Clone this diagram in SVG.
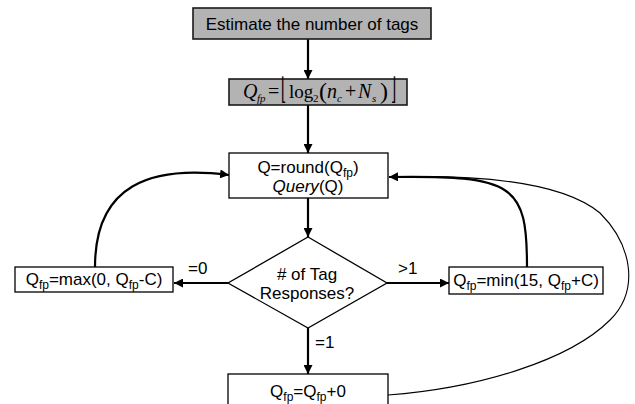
<svg xmlns="http://www.w3.org/2000/svg" width="635" height="404" viewBox="0 0 635 404">
  <style>
    .box { fill: #ffffff; stroke: #000000; stroke-width: 1.3; }
    .grey { fill: #b3b3b3; stroke: #1a1a1a; stroke-width: 1.6; }
    .lbl { font-family: "Liberation Sans", Arial, sans-serif; font-size: 17px; fill: #000000; }
    .mid { text-anchor: middle; }
    .math { font-family: "Liberation Serif", "Times New Roman", "DejaVu Serif", serif; font-size: 20px; fill: #000000; }
    .it { font-style: italic; }
    .sub { font-size: 11px; }
    .big { font-size: 24px; }
    .floor { font-family: "DejaVu Serif", serif; font-size: 30px; fill: #000000; }
    .flow { fill: none; stroke: #000000; stroke-width: 2.2; }
    .thin { fill: none; stroke: #000000; stroke-width: 1.1; }
  </style>
  <defs>
    <marker id="arrow" viewBox="0 0 10 10" refX="10" refY="5" markerWidth="9" markerHeight="9" markerUnits="userSpaceOnUse" orient="auto">
      <path d="M0,0 L10,5 L0,10 z" fill="#000000"/>
    </marker>
  </defs>

  <!-- connectors -->
  <g id="connectors">
    <line class="flow" x1="308" y1="39" x2="308" y2="79" marker-end="url(#arrow)"/>
    <line class="flow" x1="308" y1="105" x2="308" y2="153" marker-end="url(#arrow)"/>
    <line class="flow" x1="308" y1="198" x2="308" y2="237" marker-end="url(#arrow)"/>
    <line class="flow" x1="228" y1="283" x2="174" y2="283" marker-end="url(#arrow)"/>
    <line class="flow" x1="387" y1="283" x2="449" y2="283" marker-end="url(#arrow)"/>
    <line class="flow" x1="308" y1="328" x2="308" y2="374" marker-end="url(#arrow)"/>
    <path class="flow" d="M95,267 C95,185 150,165 229,175" marker-end="url(#arrow)"/>
    <path class="flow" d="M527,267 C527,185 515,175 389,177" marker-end="url(#arrow)"/>
    <path class="thin" d="M388,395 C480,388 570,360 610,320 C640,290 632,245 600,213 C560,180 470,175 395,177"/>
    <text class="lbl" x="188" y="274">=0</text>
    <text class="lbl" x="398" y="274">&gt;1</text>
    <text class="lbl" x="315" y="348">=1</text>
  </g>

  <!-- start: estimate tag count -->
  <g id="estimate">
    <rect class="grey" x="193" y="8" width="238" height="31"/>
    <text class="lbl mid" x="312" y="30">Estimate the number of tags</text>
  </g>

  <!-- initial frame-size parameter: Q_fp = floor(log2(n_c + N_s)) -->
  <g id="qfp-init">
    <rect class="grey" x="229" y="79" width="178" height="26"/>
    <text class="math">
      <tspan class="it" x="243" y="98">Q</tspan>
      <tspan class="it sub" x="257" y="102">fp</tspan>
      <tspan x="268" y="98">=</tspan>
      <tspan x="289" y="98" font-size="19">log</tspan>
      <tspan class="sub" x="313" y="102">2</tspan>
      <tspan class="big" x="319" y="99">(</tspan>
      <tspan class="it" x="327" y="98">n</tspan>
      <tspan class="it sub" x="337" y="102">c</tspan>
      <tspan x="345" y="98">+</tspan>
      <tspan class="it" x="358" y="98">N</tspan>
      <tspan class="it sub" x="372" y="102">s</tspan>
      <tspan class="big" x="380" y="99">)</tspan>
    </text>
    <text class="floor" transform="translate(281,99) scale(0.45,1)">⌊</text>
    <text class="floor" transform="translate(391,99) scale(0.45,1)">⌋</text>
  </g>

  <!-- query round -->
  <g id="query">
    <rect class="box" x="229" y="153" width="159" height="45"/>
    <text class="lbl mid" x="308" y="173">Q=round(Q<tspan font-size="12" dy="4">fp</tspan><tspan dy="-4">)</tspan></text>
    <text class="lbl mid" x="308" y="192"><tspan font-style="italic">Query</tspan>(Q)</text>
  </g>

  <!-- decision -->
  <g id="decision">
    <path class="box" d="M308,237 L387,283 L308,328 L228,283 Z"/>
    <text class="lbl mid" x="307" y="280"># of Tag</text>
    <text class="lbl mid" x="307" y="299">Responses?</text>
  </g>

  <!-- no response: decrease -->
  <g id="decrease">
    <rect class="box" x="15" y="267" width="158" height="25"/>
    <text class="lbl mid" x="94" y="285">Q<tspan font-size="12" dy="4">fp</tspan><tspan dy="-4">=max(0, Q</tspan><tspan font-size="12" dy="4">fp</tspan><tspan dy="-4">-C)</tspan></text>
  </g>

  <!-- collision: increase -->
  <g id="increase">
    <rect class="box" x="449" y="267" width="154" height="27"/>
    <text class="lbl mid" x="526" y="286">Q<tspan font-size="12" dy="4">fp</tspan><tspan dy="-4">=min(15, Q</tspan><tspan font-size="12" dy="4">fp</tspan><tspan dy="-4">+C)</tspan></text>
  </g>

  <!-- single response: keep -->
  <g id="keep">
    <rect class="box" x="228" y="374" width="160" height="40"/>
    <text class="lbl mid" x="308" y="397">Q<tspan font-size="12" dy="4">fp</tspan><tspan dy="-4">=Q</tspan><tspan font-size="12" dy="4">fp</tspan><tspan dy="-4">+0</tspan></text>
  </g>
</svg>
